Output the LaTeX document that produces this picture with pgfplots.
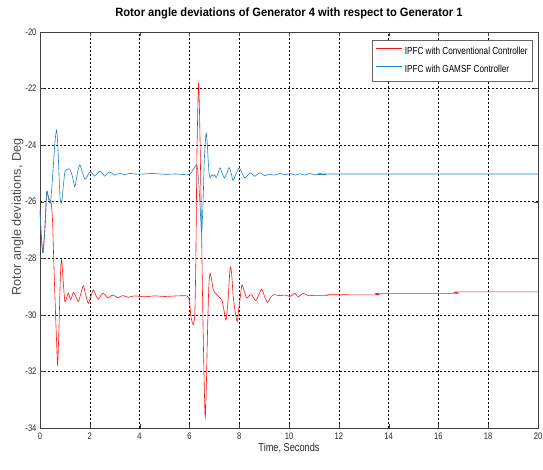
\documentclass[border=0pt]{standalone}
\usepackage{fontspec}
\setmainfont{Liberation Sans}
\newfontfamily\condfont{Liberation Sans}[FakeStretch=0.8]
\newfontfamily\condboldfont{Liberation Sans Bold}[FakeStretch=0.93]
\usepackage{pgfplots}
\pgfplotsset{compat=1.18}
\definecolor{cred}{RGB}{255,20,20}
\definecolor{cblue}{RGB}{30,130,200}
\begin{document}
\begin{tikzpicture}
\begin{axis}[
  name=ax,
  scale only axis,
  width=498pt, height=396pt,
  xmin=0, xmax=20, ymin=-34, ymax=-20,
  xtick={0,2,...,20}, ytick={-34,-32,...,-20},
  grid=major,
  major grid style={black, dash pattern=on 2pt off 2pt, line width=0.5pt},
  axis line style={black!75, line width=0.7pt},
  tick style={black!75},
  tick align=inside,
  major tick length=4pt,
  /pgf/number format/assume math mode=true,
  ticklabel style={font=\condfont\fontsize{9.5}{10}\selectfont, text=black!85},
  xticklabel style={yshift=-1pt},
  title={Rotor angle deviations of Generator 4 with respect to Generator 1},
  title style={font=\condboldfont\fontsize{12}{13}\selectfont, yshift=3pt},
  xlabel={Time, Seconds},
  xlabel style={font=\condfont\fontsize{11.5}{12}\selectfont, text=black!85, yshift=3pt},
  ylabel={Rotor angle deviations, Deg},
  ylabel style={at={(ticklabel cs:0.533)}, font=\fontsize{12.7}{13}\selectfont, text=black!70, yshift=-5pt},
  legend style={at={(0.99,0.98)}, anchor=north east, draw=black!60, line width=0.6pt,
    font=\condfont\fontsize{10.2}{11}\selectfont, row sep=5pt, inner xsep=3pt, inner ysep=5pt},
  legend cell align=left,
  legend image code/.code={\draw[#1, line width=1.4pt] (0pt,3.2pt) -- (26pt,3.2pt);},
]
\addplot[color=cred, line width=0.6pt, smooth, tension=0.4] coordinates {
(0,-26.3) (0.05,-27.2) (0.12,-27.8) (0.2,-26.9) (0.27,-25.65) (0.35,-25.9) (0.44,-26.0)
(0.5,-26.6) (0.55,-28.0) (0.6,-29.35) (0.66,-30.8) (0.71,-31.77) (0.76,-30.5) (0.82,-28.6)
(0.87,-28.05) (0.93,-28.8) (1.0,-29.53) (1.07,-29.4) (1.14,-29.23) (1.23,-29.47) (1.34,-29.2)
(1.44,-29.35) (1.54,-29.53) (1.64,-29.25) (1.74,-28.97) (1.84,-29.3) (1.94,-29.59) (2.04,-29.35)
(2.14,-29.12) (2.24,-29.3) (2.34,-29.45) (2.44,-29.32) (2.54,-29.23) (2.64,-29.32) (2.74,-29.4)
(2.84,-29.33) (2.94,-29.3) (3.04,-29.35) (3.14,-29.4) (3.24,-29.34) (3.34,-29.32) (3.45,-29.35)
(3.55,-29.38) (3.8,-29.33) (4.2,-29.36) (4.6,-29.33) (5.0,-29.35) (5.5,-29.33) (5.9,-29.33)
(6.0,-29.47) (6.06,-30.06) (6.16,-30.35) (6.22,-29.9) (6.26,-28.0) (6.3,-24.5) (6.36,-21.87)
(6.4,-22.6) (6.45,-25.0) (6.49,-27.2) (6.55,-30.5) (6.63,-33.6) (6.68,-32.5) (6.73,-30.5)
(6.78,-29.0) (6.83,-28.53) (6.9,-28.8) (6.96,-29.12) (7.06,-29.25) (7.16,-29.35) (7.3,-29.47)
(7.38,-29.8) (7.47,-30.18) (7.55,-29.5) (7.62,-28.5) (7.66,-28.3) (7.71,-28.7) (7.76,-29.35)
(7.84,-29.9) (7.92,-30.24) (7.98,-29.8) (8.03,-29.47) (8.11,-28.94) (8.2,-29.15) (8.3,-29.41)
(8.4,-29.32) (8.5,-29.29) (8.58,-29.4) (8.67,-29.5) (8.78,-29.3) (8.9,-29.09) (9.0,-29.3)
(9.13,-29.56) (9.25,-29.4) (9.37,-29.29) (9.5,-29.3) (9.64,-29.32) (9.84,-29.3) (10.04,-29.35)
(10.24,-29.24) (10.37,-29.36) (10.57,-29.24) (10.77,-29.32) (11.0,-29.31) (11.57,-29.31)
(11.6,-29.29) (13.55,-29.29) (13.6,-29.24) (16.7,-29.24) (16.75,-29.19) (20,-29.19)
};
\addlegendentry{IPFC with Conventional Controller}
\addplot[color=cblue, line width=0.6pt, smooth, tension=0.4] coordinates {
(0,-26.3) (0.05,-27.2) (0.12,-27.8) (0.2,-26.9) (0.27,-25.65) (0.35,-25.9) (0.42,-26.05)
(0.5,-25.2) (0.6,-23.9) (0.67,-23.46) (0.73,-24.3) (0.8,-25.8) (0.86,-26.05) (0.93,-25.5)
(1.0,-24.95) (1.1,-24.85) (1.2,-24.85) (1.3,-25.1) (1.4,-25.47) (1.5,-25.0) (1.6,-24.7)
(1.7,-24.95) (1.8,-25.2) (1.9,-25.1) (2.0,-24.94) (2.1,-25.0) (2.2,-25.1) (2.3,-25.0)
(2.4,-24.92) (2.5,-25.0) (2.6,-25.1) (2.7,-25.0) (2.8,-24.95) (2.9,-25.0) (3.0,-25.06)
(3.2,-25.0) (3.4,-25.04) (3.6,-25.0) (4.0,-25.03) (4.5,-25.0) (5.0,-25.03) (5.5,-25.02)
(5.9,-25.05) (6.05,-25.0) (6.2,-24.8) (6.29,-24.7) (6.35,-25.0) (6.42,-26.0) (6.49,-27.1)
(6.55,-26.0) (6.6,-24.5) (6.67,-23.57) (6.72,-24.0) (6.78,-24.9) (6.83,-25.16) (6.9,-25.05)
(6.96,-25.1) (7.02,-25.05) (7.07,-25.16) (7.15,-25.0) (7.23,-24.8) (7.32,-25.0) (7.4,-25.16)
(7.5,-25.0) (7.6,-24.8) (7.68,-25.0) (7.75,-25.25) (7.88,-25.0) (8.0,-24.8) (8.12,-25.0)
(8.23,-25.16) (8.35,-25.05) (8.46,-24.98) (8.55,-25.05) (8.63,-25.1) (8.73,-25.03)
(8.84,-24.98) (8.94,-25.03) (9.04,-25.08) (9.2,-25.02) (9.4,-25.06) (9.64,-25.0)
(9.84,-25.05) (10.04,-25.0) (10.24,-25.06) (10.44,-25.01) (10.64,-25.06) (10.84,-25.0)
(11.04,-25.05) (11.24,-25.0) (11.44,-25.05) (11.6,-25.02) (20,-25.02)
};
\addlegendentry{IPFC with GAMSF Controller}
\end{axis}
\pgfresetboundingbox
\path[use as bounding box] ([shift={(-40pt,-41pt)}]ax.south west) rectangle ([shift={(5pt,32pt)}]ax.north east);
\end{tikzpicture}
\end{document}
